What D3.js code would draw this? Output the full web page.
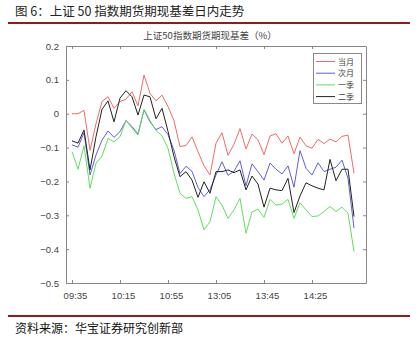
<!DOCTYPE html>
<html><head><meta charset="utf-8">
<script src="https://cdn.jsdelivr.net/npm/d3@7"></script>
<style>body{margin:0;background:#fff}svg{display:block}</style>
</head><body>
<svg id="c" width="419" height="339"></svg>
<script>
const times = ["09:35","09:40","09:45","09:50","09:55","10:00","10:05","10:10","10:15","10:20","10:25","10:30","10:35","10:40","10:45","10:50","10:55","11:00","11:05","11:10","11:15","11:20","11:25","11:30","13:05","13:10","13:15","13:20","13:25","13:30","13:35","13:40","13:45","13:50","13:55","14:00","14:05","14:10","14:15","14:20","14:25","14:30","14:35","14:40","14:45","14:50","14:55","15:00"];
const xTickLabels = ["09:35","10:15","10:55","13:05","13:45","14:25"];
const yTicks = [0.2,0.1,0,-0.1,-0.2,-0.3,-0.4,-0.5];
const seriesNames = ["当月","次月","一季","二季"];
const seriesColors = ["#f06a6a","#5f5fd8","#5ee05e","#222222"];
const dangyue = [0.0,0.0,0.01,-0.108,-0.03,0.036,0.05,0.016,0.036,0.043,0.065,0.023,0.114,0.06,0.038,0.055,0.021,-0.021,-0.097,-0.094,-0.068,-0.112,-0.154,-0.181,-0.087,-0.056,-0.123,-0.09,-0.044,-0.104,-0.06,-0.077,-0.121,-0.066,-0.059,-0.087,-0.066,-0.118,-0.069,-0.095,-0.102,-0.076,-0.088,-0.075,-0.083,-0.067,-0.063,-0.176];
const ciyue = [-0.092,-0.099,-0.056,-0.181,-0.122,-0.078,-0.051,-0.07,-0.053,-0.02,-0.038,-0.06,0.011,-0.024,-0.047,-0.038,-0.062,-0.108,-0.177,-0.155,-0.17,-0.218,-0.245,-0.224,-0.181,-0.142,-0.182,-0.17,-0.139,-0.213,-0.148,-0.171,-0.196,-0.146,-0.164,-0.178,-0.154,-0.217,-0.109,-0.161,-0.181,-0.145,-0.171,-0.164,-0.158,-0.137,-0.191,-0.338];
const yiji = [-0.112,-0.164,-0.095,-0.22,-0.146,-0.125,-0.073,-0.083,-0.068,-0.02,-0.043,-0.063,0.013,-0.02,-0.05,-0.065,-0.102,-0.176,-0.235,-0.25,-0.245,-0.284,-0.343,-0.319,-0.245,-0.27,-0.309,-0.284,-0.25,-0.353,-0.29,-0.282,-0.306,-0.253,-0.27,-0.267,-0.253,-0.309,-0.263,-0.284,-0.304,-0.302,-0.289,-0.274,-0.289,-0.276,-0.294,-0.407];
const erji = [-0.08,-0.087,-0.048,-0.166,-0.068,0.013,0.038,-0.024,0.046,0.068,0.05,-0.004,0.055,0.05,-0.015,0.016,-0.052,-0.127,-0.186,-0.171,-0.196,-0.247,-0.201,-0.235,-0.171,-0.171,-0.166,-0.174,-0.166,-0.225,-0.184,-0.208,-0.276,-0.22,-0.225,-0.227,-0.191,-0.292,-0.243,-0.204,-0.213,-0.22,-0.225,-0.135,-0.198,-0.164,-0.164,-0.304];
const seriesValues = [dangyue, ciyue, yiji, erji];

const svg = d3.select("#c");
const L = 66, R = 366, T = 46, B = 283;
const x = d3.scaleLinear().domain([-1, times.length + 1]).range([L, R]);
const y = d3.scaleLinear().domain([-0.5, 0.2]).range([B, T]);
const cjk = "'Noto Sans CJK SC', sans-serif";
const latin = "'Liberation Sans', Arial, sans-serif";

svg.append("rect").attr("width",419).attr("height",339).attr("fill","#fff");

// header
svg.append("text").attr("x",15).attr("y",16).attr("font-family",cjk).attr("font-size",12.5)
  .attr("fill","#222").text("图 6：上证 50 指数期货期现基差日内走势");
svg.append("line").attr("x1",8).attr("x2",410).attr("y1",23).attr("y2",23).attr("stroke","#8e1b20").attr("stroke-width",2);
svg.append("line").attr("x1",8).attr("x2",410).attr("y1",316).attr("y2",316).attr("stroke","#8e1b20").attr("stroke-width",2);
svg.append("text").attr("x",15).attr("y",333).attr("font-family",cjk).attr("font-size",12)
  .attr("fill","#111").text("资料来源：华宝证券研究创新部");

// chart title
svg.append("text").attr("x",(L+R)/2 - 6).attr("y",39).attr("text-anchor","middle").attr("font-family",cjk)
  .attr("font-size",9.5).attr("fill","#444").text("上证50指数期货期现基差（%）");

// axes
const tickIdx = xTickLabels.map(t => times.indexOf(t));
const gx = svg.append("g").attr("transform",`translate(0,${B})`)
  .call(d3.axisBottom(x).tickValues(tickIdx).tickFormat(i => times[i]).tickSizeInner(-3).tickSizeOuter(0).tickPadding(9));
const gxt = svg.append("g").attr("transform",`translate(0,${T})`)
  .call(d3.axisTop(x).tickValues(tickIdx).tickFormat("").tickSizeInner(-3).tickSizeOuter(0));
const gy = svg.append("g").attr("transform",`translate(${L},0)`)
  .call(d3.axisLeft(y).tickValues(yTicks).tickFormat(d => d === 0 ? "0" : d3.format(".1f")(d)).tickSizeInner(-3).tickSizeOuter(0).tickPadding(7));
const gyr = svg.append("g").attr("transform",`translate(${R},0)`)
  .call(d3.axisRight(y).tickValues(yTicks).tickFormat("").tickSizeInner(-3).tickSizeOuter(0));
[gx,gxt,gy,gyr].forEach(g => {
  g.select(".domain").attr("stroke","#888");
  g.selectAll(".tick line").attr("stroke","#888");
  g.selectAll(".tick text").attr("font-family",latin).attr("font-size",9.5).attr("fill","#444");
});
gx.selectAll(".tick text").attr("dx",3);

// lines
const line = d3.line().x((d,i) => x(i)).y(d => y(d));
seriesValues.forEach((vals, k) => {
  svg.append("path").datum(vals).attr("d", line).attr("fill","none")
    .attr("stroke", seriesColors[k]).attr("stroke-width",1);
});

// legend
const lg = svg.append("g");
lg.append("rect").attr("x",313.5).attr("y",53.5).attr("width",48).attr("height",50)
  .attr("fill","#fff").attr("stroke","#888").attr("stroke-width",1);
seriesNames.forEach((n,k) => {
  const yy = 61.5 + k*11.7;
  lg.append("line").attr("x1",316).attr("x2",335).attr("y1",yy).attr("y2",yy)
    .attr("stroke",seriesColors[k]).attr("stroke-width",1);
  lg.append("text").attr("x",338).attr("y",yy+3).attr("font-family",cjk).attr("font-size",8)
    .attr("fill","#444").text(n);
});
</script>
</body></html>
